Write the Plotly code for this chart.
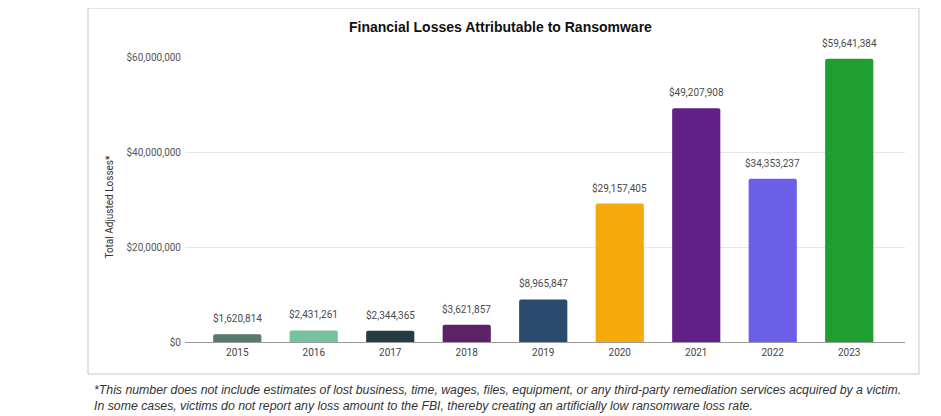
import plotly.graph_objects as go

years = ["2015", "2016", "2017", "2018", "2019", "2020", "2021", "2022", "2023"]
losses = [1620814, 2431261, 2344365, 3621857, 8965847, 29157405, 49207908, 34353237, 59641384]
bar_colors = ["#577a6c", "#76c29e", "#263c42", "#5c2266", "#2a4a6e",
              "#f5aa0b", "#622188", "#6a5fe6", "#1f9e31"]
y_ticks = [0, 20000000, 40000000, 60000000]
y_tick_labels = ["$0", "$20,000,000", "$40,000,000", "$60,000,000"]

title = "Financial Losses Attributable to Ransomware"
y_title = "Total Adjusted Losses*"
footnote = ("*This number does not include estimates of lost business, time, wages, files, equipment, "
            "or any third-party remediation services acquired by a victim.<br>"
            "In some cases, victims do not report any loss amount to the FBI, thereby creating an "
            "artificially low ransomware loss rate.")

fig = go.Figure()

fig.add_trace(go.Bar(x=years, y=losses,
                     marker=dict(color=bar_colors, line=dict(width=0)),
                     hoverinfo="x+y"))

# value labels above bars (category axis -> use index position)
for i, v in enumerate(losses):
    fig.add_annotation(x=i, y=v, text=f"${v:,}", showarrow=False,
                       xanchor="center", yanchor="bottom", yshift=8,
                       font=dict(family="Roboto, Arial", size=10, color="#4a4a4a"))

# outer chart frame
fig.add_shape(type="rect", xref="paper", yref="paper",
              x0=-0.1347, x1=1.0194, y0=-0.1123, y1=1.172,
              line=dict(color="#c8c8c8", width=1), fillcolor="rgba(0,0,0,0)",
              layer="below")

fig.add_annotation(xref="paper", yref="paper", x=0.4375, y=1.105,
                   xanchor="center", yanchor="middle",
                   text="<b>" + title + "</b>", showarrow=False,
                   font=dict(family="Arial", size=14, color="#111111"))

fig.add_annotation(xref="paper", yref="paper", x=-0.1042, y=0.475,
                   xanchor="center", yanchor="middle",
                   text=y_title, textangle=-90, showarrow=False,
                   font=dict(family="Roboto, Arial", size=10, color="#333333"))

fig.add_annotation(xref="paper", yref="paper", x=-0.1295, y=-0.1965,
                   xanchor="left", yanchor="middle", align="left",
                   text="<i>" + footnote + "</i>", showarrow=False,
                   font=dict(family="Arial", size=12.3, color="#333333"))

fig.update_xaxes(type="category", range=[-0.683, 8.729], showgrid=False, showline=False,
                 tickfont=dict(family="Roboto, Arial", size=10, color="#444444"),
                 ticks="", ticklabelstandoff=3)
fig.update_yaxes(range=[0, 60000000], tickvals=y_ticks, ticktext=y_tick_labels,
                 showgrid=True, gridcolor="#e6e6e6", gridwidth=1,
                 zeroline=True, zerolinecolor="#9a9a9a", zerolinewidth=1,
                 showline=False, ticks="", ticklabelstandoff=3,
                 tickfont=dict(family="Roboto, Arial", size=10, color="#555555"))

# page body adds an 8px offset, so margins are shifted by 8px up/left
fig.update_layout(width=941, height=416,
                  margin=dict(l=177, r=44, t=49, b=82),
                  paper_bgcolor="white", plot_bgcolor="white",
                  bargap=0.37, barcornerradius=2, showlegend=False)

fig.write_html("out.html")
